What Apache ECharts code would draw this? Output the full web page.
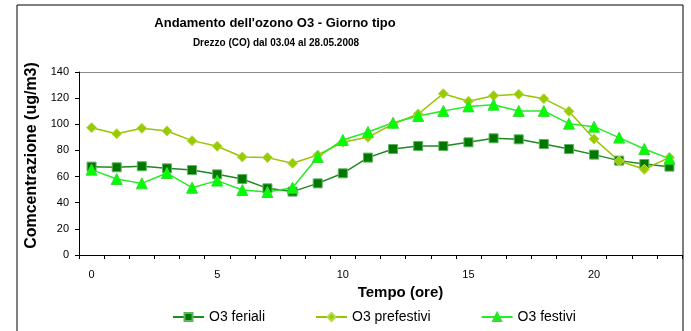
<!DOCTYPE html>
<html>
<head>
<meta charset="utf-8">
<script src="https://cdn.jsdelivr.net/npm/echarts@6/dist/echarts.min.js"></script>
<style>
html,body{margin:0;padding:0;background:#fff;}
#chart{width:691px;height:331px;}
</style>
</head>
<body>
<div id="chart"></div>
<script>
// ore del giorno
var ore = ['0','1','2','3','4','5','6','7','8','9','10','11','12','13','14','15','16','17','18','19','20','21','22','23']
// concentrazioni medie (ug/m3)
var feriali = [67.6,67.1,67.9,66.3,65,61.7,58.1,51,48.5,54.8,62.5,74.5,81.1,83.4,83.4,86.2,89.3,88.5,84.9,81.1,76.8,72.2,69.6,67.6]
var prefestivi = [97.4,92.8,96.9,94.9,87.5,83.2,75,74.5,70.2,76.5,86.2,90,100.2,107.9,123.4,117.6,121.9,123,119.6,109.9,88.8,71.9,65.6,74.7]
var festivi = [65.3,58.1,54.8,62.7,51.5,56.9,49.7,48.2,51.5,75,88,94.1,101.2,106.3,110.2,113.7,115,110.2,110.2,100.5,98.2,89.8,81.1,73.7]

var chart = echarts.init(document.getElementById('chart'))
var font = 'Liberation Sans, Arial, sans-serif'

var option = {
    animation: false,
    backgroundColor: '#fff',
    textStyle: { fontFamily: font },
    graphic: [
        {
            type: 'rect',
            shape: { x: 17, y: 5, width: 666, height: 340 },
            style: { fill: 'none', stroke: '#000', lineWidth: 1 },
            silent: true
        }
    ],
    title: [
        {
            text: "Andamento dell'ozono O3 - Giorno tipo",
            left: 270, top: 12, textAlign: 'center',
            textStyle: { fontSize: 13, fontWeight: 'bold', color: '#000', fontFamily: font }
        },
        {
            text: 'Drezzo (CO) dal 03.04 al 28.05.2008',
            left: 271, top: 33, textAlign: 'center',
            textStyle: { fontSize: 10, fontWeight: 'bold', color: '#000', fontFamily: font }
        }
    ],
    legend: {
        top: 305,
        left: 167,
        itemGap: 50,
        itemWidth: 31,
        itemHeight: 10,
        textStyle: { fontSize: 14, color: '#000', fontFamily: font },
        data: ['O3 feriali', 'O3 prefestivi', 'O3 festivi']
    },
    grid: { left: 79, right: 9, top: 72, bottom: 76 },
    xAxis: {
        type: 'category',
        data: ore,
        boundaryGap: true,
        name: 'Tempo (ore)',
        nameLocation: 'middle',
        nameGap: 21,
        nameTextStyle: { fontSize: 15, fontWeight: 'bold', color: '#000', padding: [0, 0, 0, 40] },
        axisLine: { lineStyle: { color: '#000', width: 1 } },
        axisTick: { show: true, interval: 0, length: 4, lineStyle: { color: '#000' } },
        axisLabel: { interval: 4, fontSize: 11, color: '#000', margin: 14 },
        splitLine: { show: false }
    },
    yAxis: {
        type: 'value',
        min: 0, max: 140, interval: 20,
        name: 'Comcentrazione (ug/m3)',
        nameLocation: 'middle',
        nameGap: 34,
        nameTextStyle: { fontSize: 16, fontWeight: 'bold', color: '#000', padding: [0, 0, 0, 16] },
        axisLine: { show: true, lineStyle: { color: '#000', width: 1 } },
        axisTick: { show: true, length: 4, lineStyle: { color: '#000' } },
        axisLabel: { fontSize: 11, color: '#000', margin: 10 },
        splitLine: {
            show: true,
            lineStyle: {
                color: ['rgba(0,0,0,0)','rgba(0,0,0,0)','rgba(0,0,0,0)','rgba(0,0,0,0)','rgba(0,0,0,0)','rgba(0,0,0,0)','rgba(0,0,0,0)','#8c8c8c'],
                width: 1
            }
        }
    },
    series: [
        {
            name: 'O3 feriali',
            type: 'line',
            data: feriali,
            symbol: 'rect',
            symbolSize: 9,
            lineStyle: { color: '#1e8a1e', width: 1.5 },
            itemStyle: { color: '#007800', borderColor: '#5fb35f', borderWidth: 1 }
        },
        {
            name: 'O3 prefestivi',
            type: 'line',
            data: prefestivi,
            symbol: 'diamond',
            symbolSize: 10,
            lineStyle: { color: '#99c400', width: 1.5 },
            itemStyle: { color: '#99cc00', borderColor: '#b5d94a', borderWidth: 1 }
        },
        {
            name: 'O3 festivi',
            type: 'line',
            data: festivi,
            symbol: 'triangle',
            symbolSize: 11,
            lineStyle: { color: '#22ee22', width: 1.5 },
            itemStyle: { color: '#00ff00', borderColor: '#33dd33', borderWidth: 1 }
        }
    ]
}
chart.setOption(option)
</script>
</body>
</html>
